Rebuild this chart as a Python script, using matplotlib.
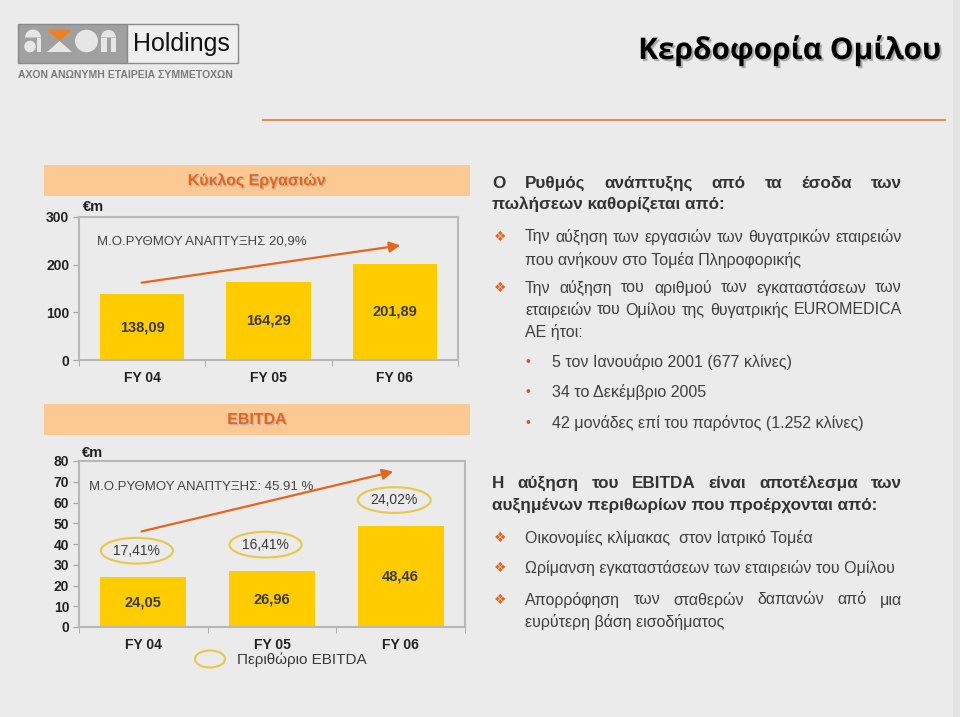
import matplotlib
matplotlib.use("Agg")
import matplotlib.pyplot as plt
import matplotlib.patheffects as pe
from matplotlib.patches import Rectangle, Ellipse, Polygon, Wedge, Circle

plt.rcParams['font.family'] = ['Liberation Sans', 'DejaVu Sans']

# data
years = ['FY 04', 'FY 05', 'FY 06']
sales = [138.09, 164.29, 201.89]
sales_labels = ['138,09', '164,29', '201,89']
ebitda = [24.05, 26.96, 48.46]
ebitda_labels = ['24,05', '26,96', '48,46']
margins = ['17,41%', '16,41%', '24,02%']
sales_growth = 'Μ.Ο.ΡΥΘΜΟΥ ΑΝΑΠΤΥΞΗΣ 20,9%'
ebitda_growth = 'Μ.Ο.ΡΥΘΜΟΥ ΑΝΑΠΤΥΞΗΣ: 45.91 %'

W, H = 960, 717
BG = '#EBEBEB'
BAR = '#FFCC00'
ORANGE = '#E8641B'
BAND = '#FCC992'
TXT = '#3A3A3A'
LOGO_LIGHT = '#E6E6E6'
LOGO_GRAY = '#A0A0A0'

fig = plt.figure(figsize=(W / 100, H / 100), dpi=100, facecolor=BG)

# overlay in pixel coordinates
ov = fig.add_axes([0, 0, 1, 1])
ov.set_xlim(0, W)
ov.set_ylim(H, 0)
ov.axis('off')
ov.patch.set_alpha(0)


def ax_at(x0, y0, x1, y1):
    return fig.add_axes([x0 / W, 1 - y1 / H, (x1 - x0) / W, (y1 - y0) / H])


# slide edge
ov.add_patch(Rectangle((953, 0), 7, H, fc='#E4E4E4', ec='none'))

# logo
ov.add_patch(Rectangle((18, 24), 109, 39, fc=LOGO_GRAY, ec='#8A8A8A', lw=1))
ov.add_patch(Rectangle((127, 24), 111, 39, fc='#EFEFEF', ec='#8A8A8A', lw=1))
# a
ov.add_patch(Wedge((33, 37.5), 8, 180, 360, fc=LOGO_LIGHT, ec='none'))
ov.add_patch(Circle((30, 46.5), 5.8, fc=LOGO_LIGHT, ec='none'))
ov.add_patch(Rectangle((37, 37.5), 4, 14.5, fc=LOGO_LIGHT, ec='none'))
# x
ov.add_patch(Polygon([[47, 29.5], [72, 29.5], [59.5, 41]], closed=True, fc='#F08020', ec='none'))
ov.add_patch(Polygon([[47, 52], [72, 52], [59.5, 41]], closed=True, fc=LOGO_LIGHT, ec='none'))
# o
ov.add_patch(Ellipse((86.5, 41), 23, 22.5, fc=LOGO_LIGHT, ec='none'))
# n
ov.add_patch(Wedge((108.5, 37.5), 7.5, 180, 360, fc=LOGO_LIGHT, ec='none'))
ov.add_patch(Rectangle((101, 37.5), 6, 14.5, fc=LOGO_LIGHT, ec='none'))
ov.add_patch(Rectangle((111, 37.5), 5, 14.5, fc=LOGO_LIGHT, ec='none'))
ov.text(181, 44, 'Holdings', ha='center', va='center', fontsize=18, color='#111111')
ov.text(18, 75, 'ΑΧΟΝ ΑΝΩΝΥΜΗ ΕΤΑΙΡΕΙΑ ΣΥΜΜΕΤΟΧΩΝ', ha='left', va='center',
        fontsize=7.5, fontweight='bold', color='#7A7A7A')

# title and rule
ov.text(942, 50, 'Κερδοφορία Ομίλου', ha='right', va='center', fontsize=21.5,
        fontweight='bold', color='black', family=['Open Sans', 'DejaVu Sans'],
        path_effects=[pe.SimplePatchShadow(offset=(1.5, -1.5), shadow_rgbFace='#9A9A9A', alpha=0.8),
                      pe.Normal()])
ov.plot([263, 945], [120, 120], color='#E8895A', lw=1.5)

# header bands
shadow = [pe.SimplePatchShadow(offset=(1, -1), shadow_rgbFace='#B0B0B0', alpha=0.8), pe.Normal()]
for y0, label in [(165, 'Κύκλος Εργασιών'), (404, 'EBITDA')]:
    ov.add_patch(Rectangle((44, y0), 426, 31, fc=BAND, ec='none'))
    ov.text(257, y0 + 15.5, label, ha='center', va='center', fontsize=11.5,
            fontweight='bold', color=ORANGE, path_effects=shadow)


def style_axis(ax, ymax, step):
    ax.set_facecolor('none')
    ax.set_xlim(-0.5, 2.5)
    ax.set_ylim(0, ymax)
    ax.set_yticks(range(0, ymax + 1, step))
    ax.set_xticks(range(len(years)))
    ax.set_xticklabels(years)
    ax.set_xticks([-0.5, 0.5, 1.5, 2.5], minor=True)
    ax.tick_params(axis='x', which='major', length=0, pad=8)
    ax.tick_params(axis='x', which='minor', length=4, color='#A0A0A0', direction='out')
    ax.tick_params(axis='y', length=4, color='#A0A0A0', pad=3)
    for lab in ax.get_xticklabels() + ax.get_yticklabels():
        lab.set_fontweight('bold')
        lab.set_fontsize(10)
        lab.set_color('#222222')
    for s in ax.spines.values():
        s.set_color('#B8B8B8')
        s.set_linewidth(1.5)


# sales chart
ax1 = ax_at(79, 217, 458, 360)
ax1.bar(range(len(years)), sales, width=0.67, color=BAR, zorder=2)
style_axis(ax1, 300, 100)
for i, v in enumerate(sales):
    ax1.text(i, v / 2, sales_labels[i], ha='center', va='center', fontsize=10.5,
             fontweight='bold', color=TXT, zorder=3)
ax1.text(0.047, 0.832, sales_growth, transform=ax1.transAxes, ha='left', va='center',
         fontsize=9.5, color='#444444')
ax1.annotate('', xy=(0.855, 0.804), xytext=(0.158, 0.538), xycoords='axes fraction',
             arrowprops=dict(arrowstyle='-|>', color=ORANGE, lw=1.6, mutation_scale=16))
ov.text(83, 207, '€m', ha='left', va='center', fontsize=10.5, fontweight='bold', color='#222222')

# ebitda chart
ax2 = ax_at(79, 461, 465, 627)
ax2.bar(range(len(years)), ebitda, width=0.67, color=BAR, zorder=2)
style_axis(ax2, 80, 10)
for i, v in enumerate(ebitda):
    ax2.text(i, v / 2, ebitda_labels[i], ha='center', va='center', fontsize=10.5,
             fontweight='bold', color=TXT, zorder=3)
    ax2.annotate(margins[i], xy=(i - 0.05, v), xytext=(0, 19), textcoords='offset points',
                 ha='center', va='center', fontsize=10, color=TXT,
                 bbox=dict(boxstyle='ellipse,pad=0.15', fc='none', ec='#E8C84A', lw=1.5))
ax2.text(0.026, 0.843, ebitda_growth, transform=ax2.transAxes, ha='left', va='center',
         fontsize=9.5, color='#444444')
ax2.annotate('', xy=(0.821, 0.94), xytext=(0.155, 0.572), xycoords='axes fraction',
             arrowprops=dict(arrowstyle='-|>', color=ORANGE, lw=1.6, mutation_scale=16))
ov.text(82, 453, '€m', ha='left', va='center', fontsize=10.5, fontweight='bold', color='#222222')

# legend
ov.add_patch(Ellipse((210, 659), 30, 17, fc='none', ec='#E8C84A', lw=1.5))
ov.text(237, 660, 'Περιθώριο EBITDA', ha='left', va='center', fontsize=11, color=TXT)

# right-hand text
renderer = fig.canvas.get_renderer()


def justified(line, x0, x1, y, **kw):
    words = line.split()
    objs = [ov.text(x0, y, w, ha='left', va='center', **kw) for w in words]
    widths = [o.get_window_extent(renderer).width for o in objs]
    gap = (x1 - x0 - sum(widths)) / max(len(words) - 1, 1)
    x = x0
    for o, w in zip(objs, widths):
        o.set_x(x)
        x += w + gap


head = dict(fontsize=12.3, fontweight='bold', color='#333333')
body = dict(fontsize=11.5, color='#404040')
RX = 902


def bullet(y):
    ov.text(500, y, '❖', ha='center', va='center', fontsize=10, color=ORANGE,
            family=['DejaVu Sans'])


justified('Ο Ρυθμός ανάπτυξης από τα έσοδα των', 492, RX, 183, **head)
ov.text(492, 205, 'πωλήσεων καθορίζεται από:', ha='left', va='center', **head)

bullet(237)
justified('Την αύξηση των εργασιών των θυγατρικών εταιρειών', 525, RX, 237, **body)
ov.text(525, 260, 'που ανήκουν στο Τομέα Πληροφορικής', ha='left', va='center', **body)
bullet(288)
justified('Την αύξηση του αριθμού των εγκαταστάσεων των', 525, RX, 288, **body)
justified('εταιρειών του Ομίλου της θυγατρικής EUROMEDICA', 525, RX, 310, **body)
ov.text(525, 332, 'ΑΕ ήτοι:', ha='left', va='center', **body)

for y, t in [(362, '5 τον Ιανουάριο 2001 (677 κλίνες)'),
             (392, '34 το Δεκέμβριο 2005'),
             (423, '42 μονάδες επί του παρόντος (1.252 κλίνες)')]:
    ov.text(528, y, '•', ha='center', va='center', fontsize=10, color='#E0502A')
    ov.text(552, y, t, ha='left', va='center', **body)

justified('Η αύξηση του EBITDA είναι αποτέλεσμα των', 492, RX, 483, **head)
ov.text(492, 505, 'αυξημένων περιθωρίων που προέρχονται από:', ha='left', va='center', **head)
bullet(538)
ov.text(525, 538, 'Οικονομίες κλίμακας  στον Ιατρικό Τομέα', ha='left', va='center', **body)
bullet(568)
ov.text(525, 568, 'Ωρίμανση εγκαταστάσεων των εταιρειών του Ομίλου', ha='left', va='center', **body)
bullet(600)
justified('Απορρόφηση των σταθερών δαπανών από μια', 525, RX, 600, **body)
ov.text(525, 622, 'ευρύτερη βάση εισοδήματος', ha='left', va='center', **body)

fig.savefig('out.png', dpi=100, facecolor=BG)
